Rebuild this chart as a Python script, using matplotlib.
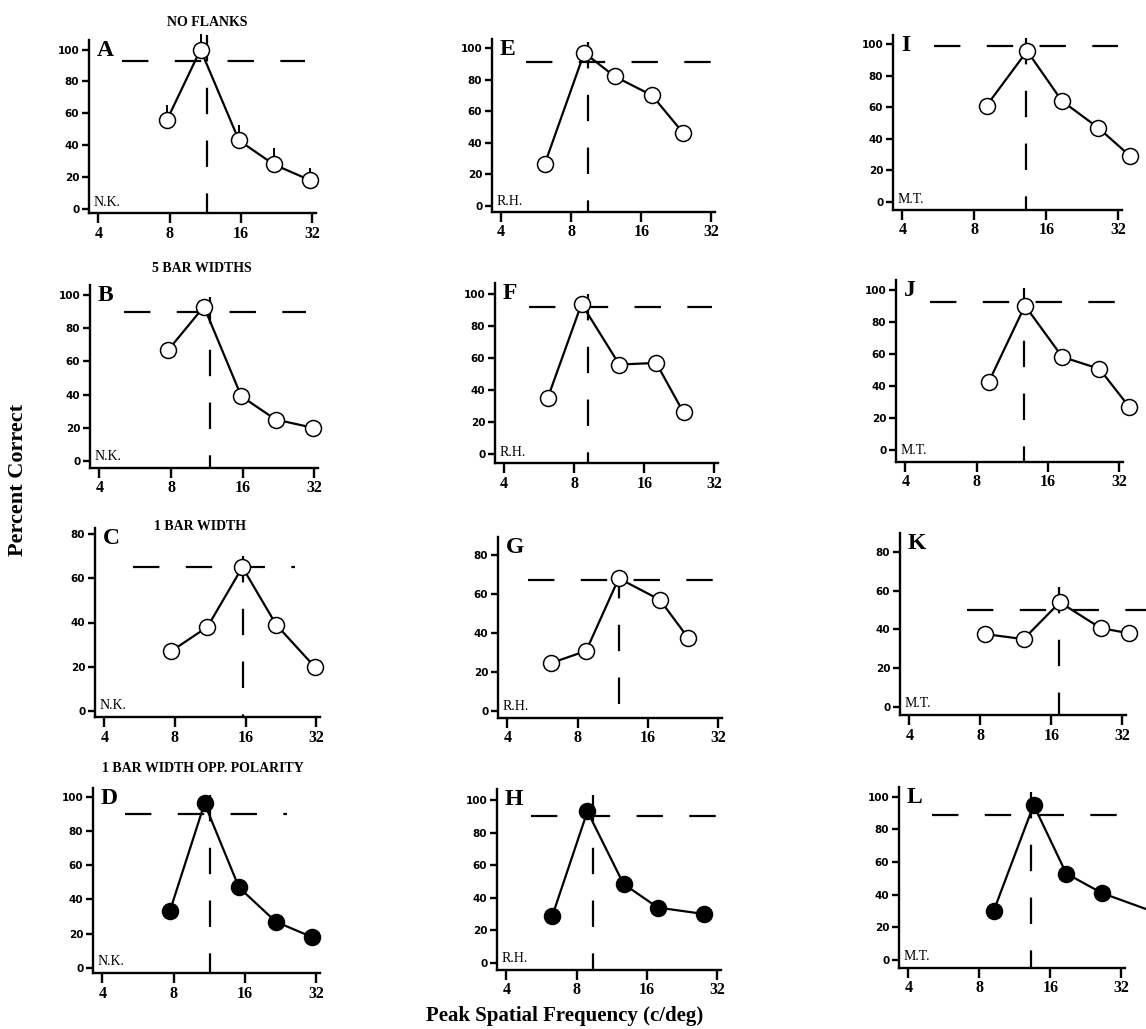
import matplotlib
matplotlib.use("Agg")
import matplotlib.pyplot as plt
import numpy as np

plt.rcParams['lines.scale_dashes'] = False

# ---------------- data ----------------
panel_ids = ["A", "B", "C", "D", "E", "F", "G", "H", "I", "J", "K", "L"]
subjects = ["N.K.", "N.K.", "N.K.", "N.K.",
            "R.H.", "R.H.", "R.H.", "R.H.",
            "M.T.", "M.T.", "M.T.", "M.T."]
row_titles = ["NO FLANKS", "5 BAR WIDTHS", "1 BAR WIDTH", "1 BAR WIDTH OPP. POLARITY"]

freq_A = [7.8, 10.8, 15.7, 22.0, 31.4]
pc_A = [56, 100, 43, 28, 18]
err_A = [9, 10, 10, 10, 8]
freq_B = [7.8, 11.0, 15.8, 22.0, 31.7]
pc_B = [67, 93, 39, 25, 20]
freq_C = [7.7, 11.0, 15.5, 21.6, 31.5]
pc_C = [27, 38, 65, 39, 20]
freq_D = [7.7, 10.8, 15.1, 21.6, 30.8]
pc_D = [33, 96, 47, 27, 18]

freq_E = [6.15, 9.1, 12.3, 17.8, 24.3]
pc_E = [26.5, 97, 82, 70, 46]
freq_F = [6.15, 8.6, 12.5, 18.0, 23.6]
pc_F = [35, 94, 56, 57, 26]
freq_G = [6.17, 8.7, 12.0, 18.0, 23.8]
pc_G = [24.6, 30.8, 68, 57, 37.4]
freq_H = [6.3, 8.9, 12.7, 17.8, 28.2]
pc_H = [29, 93, 48.5, 34, 30]

freq_I = [9.0, 13.3, 18.6, 26.4, 36.0]
pc_I = [61, 95.6, 64, 47, 29]
freq_J = [9.0, 12.8, 18.4, 26.4, 35.2]
pc_J = [42.5, 90, 58, 50.6, 27]
freq_K = [8.4, 12.2, 17.4, 25.9, 34.3]
pc_K = [37.6, 35, 54, 40.7, 38]
freq_L = [9.2, 13.6, 18.7, 26.5, 45.0]
pc_L = [30, 95, 53, 41, 29]

# reference levels: horizontal dashed (percent) and vertical dashed (frequency)
h_level = [93, 90, 65, 90, 91, 92, 67, 90, 98.7, 92, 50, 89]
v_freq = [11.5, 11.7, 15.6, 11.4, 9.4, 9.2, 12.0, 9.4, 13.2, 12.7, 17.3, 13.2]

freqs = [freq_A, freq_B, freq_C, freq_D, freq_E, freq_F, freq_G, freq_H,
         freq_I, freq_J, freq_K, freq_L]
pcs = [pc_A, pc_B, pc_C, pc_D, pc_E, pc_F, pc_G, pc_H, pc_I, pc_J, pc_K, pc_L]
errs = [err_A] + [None] * 11

xticks = [4, 8, 16, 32]
xticklabels = ["4", "8", "16", "32"]

# ---------------- layout (pixels: left, top, right, bottom) ----------------
W, H = 1146, 1029
rects = [
    (89, 40, 316, 213), (90, 285, 318, 468), (95, 528, 320, 717), (93, 788, 320, 973),
    (492, 39, 715, 212), (495, 283, 718, 463), (498, 537, 722, 718), (497, 789, 721, 970),
    (893, 35, 1122, 210), (896, 280, 1123, 462), (900, 533, 1126, 715), (899, 787, 1125, 968),
]
ylims = [(-2.5, 106), (-4.2, 106), (-2.7, 82.7), (-2.9, 105),
         (-3.8, 105.7), (-5.6, 107), (-3.6, 89.2), (-4.3, 106.7),
         (-5, 105.7), (-7.5, 106), (-4.1, 89.7), (-4.9, 106)]
h_x = [(5.05, 29.9), (5.05, 29.5), (5.3, 26), (5.0, 24),
       (5.1, 32), (5.1, 31.4), (4.9, 31.5), (5.1, 32),
       (5.4, 32), (5.1, 30.6), (7.0, 45), (5.04, 32)]
v_top = [109, 99, 70, 101, 104, 100, 71, 103, 104, 101, 62, 103]
xlim = (3.65, 33.2)

serif = ["Liberation Serif", "DejaVu Serif"]
sans = ["DejaVu Sans"]

fig = plt.figure(figsize=(W / 100, H / 100), dpi=100)

for i, pid in enumerate(panel_ids):
    l, t, r, b = rects[i]
    ax = fig.add_axes([l / W, 1 - b / H, (r - l) / W, (b - t) / H])
    ax.set_xscale("log", base=2)
    ax.set_xlim(*xlim)
    ax.set_ylim(*ylims[i])
    for s in ["top", "right"]:
        ax.spines[s].set_visible(False)
    for s in ["left", "bottom"]:
        ax.spines[s].set_linewidth(1.7)
    ax.set_xticks(xticks)
    ax.set_xticklabels(xticklabels, family=serif, fontweight="bold", fontsize=11.5)
    ax.xaxis.set_minor_locator(matplotlib.ticker.NullLocator())
    ymax_tick = 80 if ylims[i][1] < 95 else 100
    yt = list(range(0, ymax_tick + 1, 20))
    ax.set_yticks(yt)
    ax.set_yticklabels([str(v) for v in yt], family=sans, fontweight="bold", fontsize=7.5)
    ax.tick_params(axis="x", direction="out", length=7, width=1.7, pad=2)
    ax.tick_params(axis="y", direction="out", length=5, width=1.7, pad=2)

    # reference dashed lines
    ax.plot(list(h_x[i]), [h_level[i], h_level[i]], color="black", lw=1.6,
            dashes=(19, 19), clip_on=False, zorder=2)
    ax.plot([v_freq[i], v_freq[i]], [v_top[i], ylims[i][0]], color="black", lw=1.6,
            dashes=(19, 19), clip_on=False, zorder=2)

    filled = i % 4 == 3
    face = "black" if filled else "white"
    if errs[i] is not None:
        ax.errorbar(freqs[i], pcs[i], yerr=[np.zeros(len(errs[i])), errs[i]],
                    fmt="none", ecolor="black", elinewidth=1.4, capsize=0,
                    zorder=3, clip_on=False)
    ax.plot(freqs[i], pcs[i], color="black", lw=1.6, marker="o", markersize=11.5,
            markerfacecolor=face, markeredgecolor="black", markeredgewidth=1.1,
            clip_on=False, zorder=4)

    ax.text(0.035, 1.0, pid, transform=ax.transAxes, ha="left", va="top",
            family=serif, fontweight="bold", fontsize=17)
    ax.text(0.02, 0.025, subjects[i], transform=ax.transAxes, ha="left", va="bottom",
            family=serif, fontsize=10)

title_pos = [(207, 22), (202, 268), (200, 526), (203, 769)]
for (tx, ty), title in zip(title_pos, row_titles):
    fig.text(tx / W, 1 - ty / H, title, ha="center", va="center",
             family=serif, fontweight="bold", fontsize=10)

fig.text(18 / W, 1 - 480 / H, "Percent Correct", rotation=90, ha="center", va="center",
         family=serif, fontweight="bold", fontsize=16)
fig.text(565 / W, 1 - 1016 / H, "Peak Spatial Frequency (c/deg)", ha="center", va="center",
         family=serif, fontweight="bold", fontsize=15)

fig.savefig("out.png", dpi=100, facecolor="white")
